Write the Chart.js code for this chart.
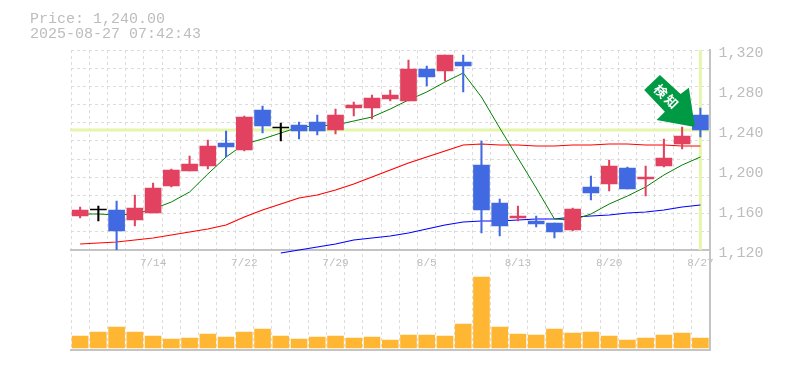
<!DOCTYPE html>
<html>
<head>
<meta charset="utf-8">
<style>
  html, body { margin: 0; padding: 0; background: #fff; }
  canvas { display: block; }
</style>
<script src="https://cdn.jsdelivr.net/npm/chart.js@4"></script>
</head>
<body>
<canvas id="chart" width="785" height="370"></canvas>
<script>
const priceText = "Price: 1,240.00";
const timeText = "2025-08-27 07:42:43";
const badgeText = "検知";
const lastPrice = 1240;

const dates = ["7/8", "7/9", "7/10", "7/11", "7/14", "7/15", "7/16", "7/17", "7/18", "7/22", "7/23", "7/24", "7/25", "7/28", "7/29", "7/30", "7/31", "8/1", "8/4", "8/5", "8/6", "8/7", "8/8", "8/12", "8/13", "8/14", "8/15", "8/18", "8/19", "8/20", "8/21", "8/22", "8/25", "8/26", "8/27"];

const opens = [1154, 1160, 1160, 1150, 1157, 1184, 1199, 1204, 1227, 1220, 1260, 1242, 1245, 1248, 1240, 1262, 1262, 1271, 1269, 1301, 1299, 1308, 1205, 1167, 1152, 1149, 1147, 1140, 1183, 1186, 1202, 1191, 1204, 1226, 1255];
const closes = [1160, 1160, 1139, 1162, 1182, 1200, 1206, 1224, 1223, 1253, 1244, 1242, 1239, 1239, 1255, 1265, 1272, 1275, 1301, 1293, 1315, 1304, 1160, 1144, 1154, 1146, 1138, 1161, 1177, 1204, 1181, 1193, 1212, 1234, 1240];
const highs = [1163, 1164, 1169, 1175, 1187, 1201, 1214, 1230, 1239, 1254, 1264, 1247, 1248, 1255, 1261, 1268, 1275, 1280, 1310, 1304, 1315, 1315, 1229, 1171, 1164, 1154, 1147, 1162, 1194, 1210, 1203, 1204, 1231, 1243, 1262];
const lows = [1152, 1149, 1119, 1144, 1157, 1183, 1199, 1201, 1213, 1219, 1237, 1229, 1231, 1235, 1236, 1254, 1251, 1269, 1269, 1284, 1289, 1278, 1137, 1134, 1149, 1143, 1132, 1139, 1170, 1179, 1181, 1174, 1203, 1221, 1233];

const maShort = [1156, 1156, 1155, 1156, 1161, 1168, 1178, 1196, 1213, 1226, 1231, 1237, 1243, 1244, 1245, 1249, 1253, 1261, 1270, 1278, 1288, 1297, 1273, 1242, 1212, 1182, 1151, 1150, 1156, 1166, 1174, 1183, 1195, 1205, 1213];
const maMiddle = [1126, 1127, 1128, 1130, 1132, 1135, 1138, 1141, 1145, 1153, 1160, 1166, 1172, 1175, 1180, 1186, 1193, 1200, 1207, 1213, 1219, 1225, 1226, 1225, 1225, 1224, 1224, 1225, 1225, 1226, 1226, 1225, 1225, 1224, 1224];
const maLong = [null, null, null, null, null, null, null, null, null, null, null, 1117, 1120, 1123, 1126, 1130, 1132, 1134, 1137, 1141, 1145, 1148, 1149, 1149, 1150, 1151, 1151, 1153, 1154, 1155, 1157, 1158, 1160, 1163, 1165];

const volumes = [12, 16, 21, 16, 12, 9, 10, 14, 11, 16, 19, 12, 9, 11, 12, 10, 11, 8, 13, 13, 12, 24, 71, 21, 14, 13, 19, 15, 16, 12, 8, 10, 13, 15, 10];

const UP_COLOR = "#e2425f";
const DOWN_COLOR = "#4169e1";
const GRID_COLOR = "#dcdcdc";
const AXIS_COLOR = "#c4c4c4";
const TEXT_COLOR = "#bdbdbd";
const MARK_COLOR = "#e6f5ac";
const MONO = "'Liberation Mono', monospace";

const candleColors = opens.map((open, i) => {
  if (closes[i] > open) return UP_COLOR;
  if (closes[i] < open) return DOWN_COLOR;
  return "#000000";
});

// dashed price grid is not aligned to the labels, so both sets of ticks live on one axis
const PRICE_MIN = 1120;
const PRICE_MAX = 1320;
const GRID_ROWS = 11;
const VOLUME_MIN = -2;

// crosshair on the last price, sits under the candles
const crosshair = {
  id: "crosshair",
  beforeDatasetsDraw(chart) {
    const { ctx, chartArea, scales } = chart;
    const py = scales.y.getPixelForValue(lastPrice);
    const px = scales.x.getPixelForValue(dates.length - 1);
    ctx.save();
    ctx.fillStyle = MARK_COLOR;
    ctx.fillRect(chartArea.left - 1, py - 1.5, chartArea.width + 1, 3);
    ctx.fillRect(px - 1.5, scales.y.top, 3, scales.y.height);
    ctx.restore();
  },
};

// header text and the green arrow badge
const overlay = {
  id: "overlay",
  afterDraw(chart) {
    const { ctx, scales } = chart;
    ctx.save();
    ctx.fillStyle = TEXT_COLOR;
    ctx.font = "15px " + MONO;
    ctx.textBaseline = "alphabetic";
    ctx.fillText(priceText, 30, 23);
    ctx.fillText(timeText, 30, 38);

    const tipX = scales.x.getPixelForValue(dates.length - 1) - 5.5;
    const tipY = scales.y.getPixelForValue(lastPrice + 3);
    const shape = [[-50.7, -37], [-35, -52], [-14.3, -33], [-6, -39.3], [0, 0], [-38.3, -7], [-30, -15.3]];
    ctx.fillStyle = "#009944";
    ctx.beginPath();
    shape.forEach(([dx, dy], i) => {
      if (i === 0) ctx.moveTo(tipX + dx, tipY + dy);
      else ctx.lineTo(tipX + dx, tipY + dy);
    });
    ctx.closePath();
    ctx.fill();

    ctx.translate(tipX - 28, tipY - 30);
    ctx.rotate(Math.PI / 4);
    ctx.fillStyle = "#ffffff";
    ctx.font = "bold 13px 'Noto Sans CJK JP'";
    ctx.letterSpacing = "2px";
    ctx.textAlign = "center";
    ctx.textBaseline = "middle";
    ctx.fillText(badgeText, 0, 0);
    ctx.restore();
  },
};

new Chart(document.getElementById("chart"), {
  type: "bar",
  data: {
    labels: dates,
    datasets: [
      {
        type: "line",
        data: maShort,
        borderColor: "#008000",
        borderWidth: 1,
        pointRadius: 0,
        yAxisID: "y",
        order: 5,
      },
      {
        type: "line",
        data: maMiddle,
        borderColor: "#ff0000",
        borderWidth: 1.2,
        pointRadius: 0,
        yAxisID: "y",
        order: 5,
      },
      {
        type: "line",
        data: maLong,
        borderColor: "#0000ff",
        borderWidth: 1.2,
        pointRadius: 0,
        yAxisID: "y",
        clip: false,
        order: 5,
      },
      {
        data: lows.map((low, i) => [low, highs[i]]),
        backgroundColor: candleColors,
        barThickness: 1.4,
        grouped: false,
        yAxisID: "y",
        order: 2,
      },
      {
        data: opens.map((open, i) => [open, closes[i]]),
        backgroundColor: candleColors,
        barThickness: 16,
        minBarLength: 1,
        grouped: false,
        yAxisID: "y",
        order: 1,
      },
      {
        data: volumes,
        backgroundColor: "#ffb733",
        barThickness: 16,
        base: 0,
        grouped: false,
        yAxisID: "volume",
        order: 1,
      },
    ],
  },
  options: {
    responsive: false,
    animation: false,
    layout: { padding: { top: 50, bottom: 20, left: 71, right: 0 } },
    plugins: { legend: { display: false }, tooltip: { enabled: false } },
    scales: {
      x: {
        position: { y: PRICE_MIN },
        offset: true,
        grid: { offset: true, color: GRID_COLOR, drawTicks: false },
        border: { color: AXIS_COLOR, width: 2, dash: [3, 3] },
        ticks: {
          autoSkip: false,
          maxRotation: 0,
          padding: 6,
          color: TEXT_COLOR,
          font: { family: MONO, size: 11 },
          callback(value, index) {
            return index % 5 === 4 ? dates[index] : "";
          },
        },
      },
      // only the solid line under the volume panel
      xBase: {
        type: "category",
        axis: "x",
        position: { volume: VOLUME_MIN },
        grid: { display: false },
        border: { color: AXIS_COLOR, width: 2 },
        ticks: { display: false },
      },
      y: {
        position: "right",
        stack: "panels",
        stackWeight: 2,
        weight: 1,
        min: PRICE_MIN,
        max: PRICE_MAX,
        afterFit(scale) {
          scale.width = 75.5;
        },
        afterBuildTicks(scale) {
          const ticks = [];
          for (let i = 0; i <= GRID_ROWS; i++) {
            ticks.push({ value: PRICE_MIN + (i * (PRICE_MAX - PRICE_MIN)) / GRID_ROWS, grid: true });
          }
          for (let p = PRICE_MIN; p <= PRICE_MAX; p += 40) {
            ticks.push({ value: p, grid: false });
          }
          scale.ticks = ticks;
        },
        grid: {
          drawTicks: false,
          color(ctx) {
            return ctx.tick && ctx.tick.grid ? GRID_COLOR : "rgba(0,0,0,0)";
          },
        },
        border: { color: AXIS_COLOR, width: 2, dash: [3, 3] },
        ticks: {
          autoSkip: false,
          padding: 9,
          labelOffset: 3,
          color: TEXT_COLOR,
          font: { family: MONO, size: 15 },
          callback(value, index, ticks) {
            return ticks[index].grid ? "" : value.toLocaleString("en-US");
          },
        },
      },
      volume: {
        position: "right",
        stack: "panels",
        stackWeight: 1,
        weight: 2,
        min: VOLUME_MIN,
        max: 98,
        afterFit(scale) {
          scale.width = 75.5;
        },
        grid: { display: false },
        border: { color: AXIS_COLOR, width: 2 },
        ticks: { display: false },
      },
    },
  },
  plugins: [crosshair, overlay],
});
</script>
</body>
</html>
